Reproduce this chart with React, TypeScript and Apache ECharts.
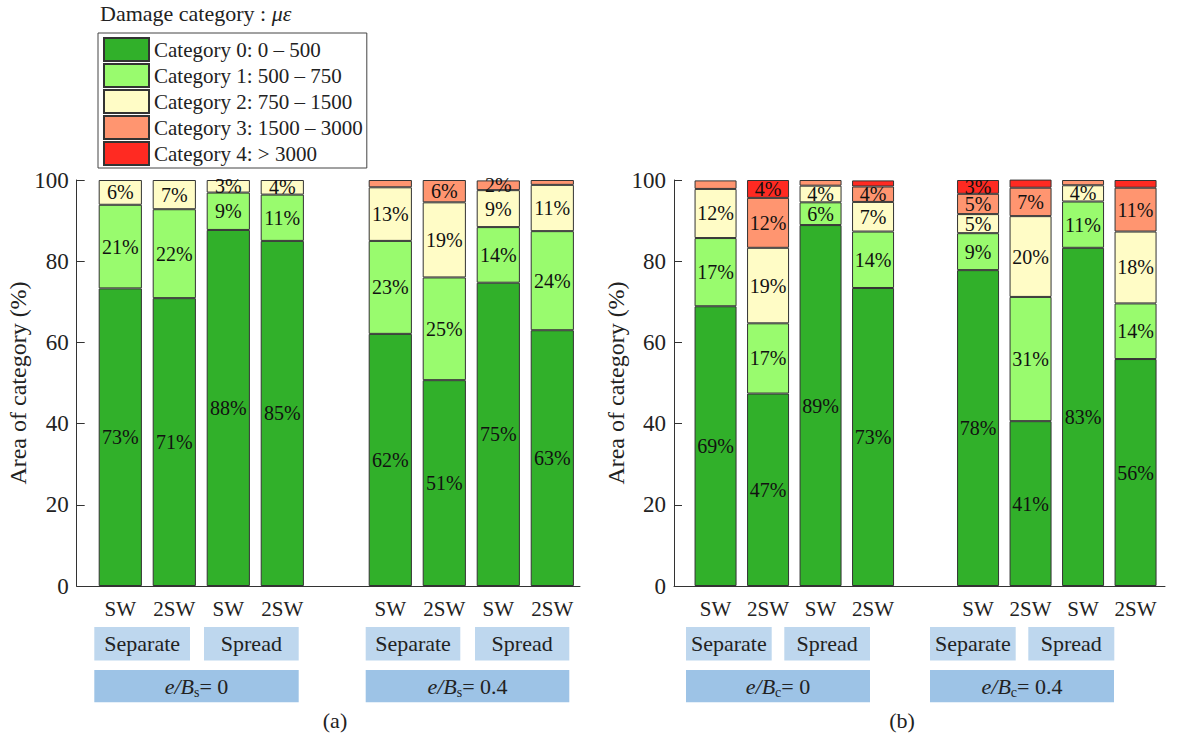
import React, { useEffect, useRef } from "react";
import * as echarts from "echarts";

const FONT = "'Liberation Serif', 'Times New Roman', serif";

const categories = ["SW", "2SW", "SW", "2SW", "", "SW", "2SW", "SW", "2SW"];
const seriesNames = [
  "Category 0: 0 – 500",
  "Category 1: 500 – 750",
  "Category 2: 750 – 1500",
  "Category 3: 1500 – 3000",
  "Category 4: > 3000",
];
const colors = ["#31b02a", "#99fb6e", "#fffcc6", "#ff9570", "#ff2a22"];

// Panel (a): e/Bs = 0 (4 bars), e/Bs = 0.4 (4 bars)
const a0 = [73.3, 70.9, 87.7, 85.0, 62.1, 50.7, 74.7, 63.0];
const a1 = [20.6, 21.9, 9.2, 11.4, 22.9, 25.3, 13.7, 24.4];
const a2 = [6.1, 7.2, 3.1, 3.6, 13.2, 18.5, 9.1, 11.4];
const a3 = [0, 0, 0, 0, 1.8, 5.5, 2.4, 1.2];
const a4 = [0, 0, 0, 0, 0, 0, 0, 0];

// Panel (b): e/Bc = 0 (4 bars), e/Bc = 0.4 (4 bars)
const b0 = [68.9, 47.4, 88.9, 73.4, 77.8, 40.6, 83.3, 55.9];
const b1 = [16.8, 17.3, 5.6, 13.9, 9.1, 30.6, 11.4, 13.7];
const b2 = [12.1, 18.6, 4.1, 7.3, 4.7, 19.9, 4.0, 17.7];
const b3 = [2.1, 12.3, 1.4, 3.8, 5.0, 7.0, 1.3, 10.8];
const b4 = [0, 4.4, 0, 1.5, 3.4, 2.0, 0, 1.9];

const yTicks = [0, 20, 40, 60, 80, 100];
const LABEL_MIN = 2.2;

const panelA = [a0, a1, a2, a3, a4];
const panelB = [b0, b1, b2, b3, b4];

function withGap(arr: number[]) {
  const v = arr.map((x) => (x > 0 ? x : null));
  return [...v.slice(0, 4), null, ...v.slice(4)];
}

function buildSeries(panel: number[][], gridIdx: number, stack: string) {
  return panel.map((arr, k) => ({
    type: "bar",
    name: seriesNames[k],
    stack,
    xAxisIndex: gridIdx,
    yAxisIndex: gridIdx,
    barWidth: "80%",
    itemStyle: { color: colors[k], borderColor: "#333", borderWidth: 1 },
    label: {
      show: true,
      position: "inside",
      fontFamily: FONT,
      fontSize: 20,
      lineHeight: 14,
      color: "#111",
      formatter: (p: any) =>
        p.value != null && p.value >= LABEL_MIN ? Math.round(p.value) + "%" : "",
    },
    data: withGap(arr),
  }));
}

function box(x: number, y: number, w: number, h: number, fill: string, text: string, rich?: any) {
  return {
    type: "group",
    children: [
      { type: "rect", shape: { x, y, width: w, height: h }, style: { fill } },
      {
        type: "text",
        x: x + w / 2,
        y: y + h / 2,
        style: {
          text,
          rich,
          fontFamily: FONT,
          fontSize: 22,
          fill: "#222",
          align: "center",
          verticalAlign: "middle",
        },
      },
    ],
  };
}

const subRich = {
  i: { fontFamily: FONT, fontStyle: "italic", fontSize: 22, lineHeight: 26, color: "#222" },
  s: { fontFamily: FONT, fontSize: 14, lineHeight: 14, verticalAlign: "bottom", color: "#222" },
  n: { fontFamily: FONT, fontSize: 22, lineHeight: 26, color: "#222" },
};

export default function App() {
  const ref = useRef<HTMLDivElement>(null);
  useEffect(() => {
    document.body.style.margin = "0";
    const chart = echarts.init(ref.current!, null, { renderer: "svg" });
    const LIGHT = "#bed7ee";
    const DARK = "#9dc3e6";
    const yAxisVisible = (gi: number, gap: number) => ({
      type: "value",
      gridIndex: gi,
      min: 0,
      max: 100,
      interval: 20,
      axisLine: { show: true, lineStyle: { color: "#333", width: 1 } },
      axisTick: { show: true, inside: true, length: 8, lineStyle: { color: "#333" } },
      axisLabel: {
        fontFamily: FONT,
        fontSize: 23,
        color: "#222",
        margin: 8,
        formatter: (v: number) => (yTicks.includes(v) ? String(v) : ""),
      },
      splitLine: { show: false },
      name: "Area of category (%)",
      nameLocation: "middle",
      nameGap: gap,
      nameTextStyle: { fontFamily: FONT, fontSize: 24, color: "#222" },
    });
    const yHidden = (gi: number) => ({ type: "value", gridIndex: gi, min: 0, max: 100, show: false });
    const xCat = (gi: number) => ({
      type: "category",
      gridIndex: gi,
      data: categories,
      axisLine: { show: false },
      axisTick: { show: false },
      axisLabel: { fontFamily: FONT, fontSize: 21, color: "#222", margin: 12, interval: 0 },
    });
    const xLine = (gi: number) => ({
      type: "value",
      gridIndex: gi,
      min: 0,
      max: 1,
      axisLine: { show: true, onZero: false, lineStyle: { color: "#333", width: 1 } },
      axisTick: { show: false },
      axisLabel: { show: false },
      splitLine: { show: false },
    });

    chart.setOption({
      animation: false,
      title: {
        left: 98,
        top: 0,
        padding: [2, 2],
        text: "Damage category : {i|με}",
        textStyle: {
          fontFamily: FONT,
          fontSize: 22,
          fontWeight: "normal",
          color: "#222",
          rich: { i: { fontFamily: FONT, fontStyle: "italic", fontSize: 22, color: "#222" } },
        },
      },
      legend: {
        left: 98,
        top: 33,
        orient: "vertical",
        itemWidth: 45,
        itemHeight: 23,
        itemGap: 1,
        padding: [4, 4, 2, 5],
        borderColor: "#444",
        borderWidth: 1,
        selectedMode: false,
        icon: "rect",
        data: seriesNames,
        textStyle: { fontFamily: FONT, fontSize: 21, lineHeight: 21, color: "#222" },
      },
      grid: [
        { left: 93.3, top: 180, width: 486, height: 406 },
        { left: 76.7, top: 180, width: 503.3, height: 406 },
        { left: 689.3, top: 180, width: 472.5, height: 406 },
        { left: 674, top: 180, width: 491, height: 406 },
      ],
      xAxis: [xCat(0), xLine(1), xCat(2), xLine(3)],
      yAxis: [yHidden(0), yAxisVisible(1, 44), yHidden(2), yAxisVisible(3, 42)],
      series: [...buildSeries(panelA, 0, "a"), ...buildSeries(panelB, 2, "b")],
      graphic: [
        box(94.3, 627, 95.7, 33.5, LIGHT, "Separate"),
        box(204, 627, 94.7, 33.5, LIGHT, "Spread"),
        box(94.3, 670, 204.4, 32.3, DARK, "{i|e/B}{s|s}{n|= 0}", subRich),
        box(365.7, 627, 94.6, 33.5, LIGHT, "Separate"),
        box(475, 627, 94.3, 33.5, LIGHT, "Spread"),
        box(365.7, 670, 203.6, 32.3, DARK, "{i|e/B}{s|s}{n|= 0.4}", subRich),
        box(686, 627, 85.7, 33.5, LIGHT, "Separate"),
        box(784.3, 627, 85.7, 33.5, LIGHT, "Spread"),
        box(686, 670, 184, 32.3, DARK, "{i|e/B}{s|c}{n|= 0}", subRich),
        box(930, 627, 85.7, 33.5, LIGHT, "Separate"),
        box(1028.3, 627, 86, 33.5, LIGHT, "Spread"),
        box(930, 670, 184, 32.3, DARK, "{i|e/B}{s|c}{n|= 0.4}", subRich),
        {
          type: "text",
          x: 335,
          y: 720,
          style: { text: "(a)", fontFamily: FONT, fontSize: 22, fill: "#222", align: "center", verticalAlign: "middle" },
        },
        {
          type: "text",
          x: 902,
          y: 720,
          style: { text: "(b)", fontFamily: FONT, fontSize: 22, fill: "#222", align: "center", verticalAlign: "middle" },
        },
      ],
    });
    return () => chart.dispose();
  }, []);
  return <div ref={ref} style={{ width: 1179, height: 739 }} />;
}
